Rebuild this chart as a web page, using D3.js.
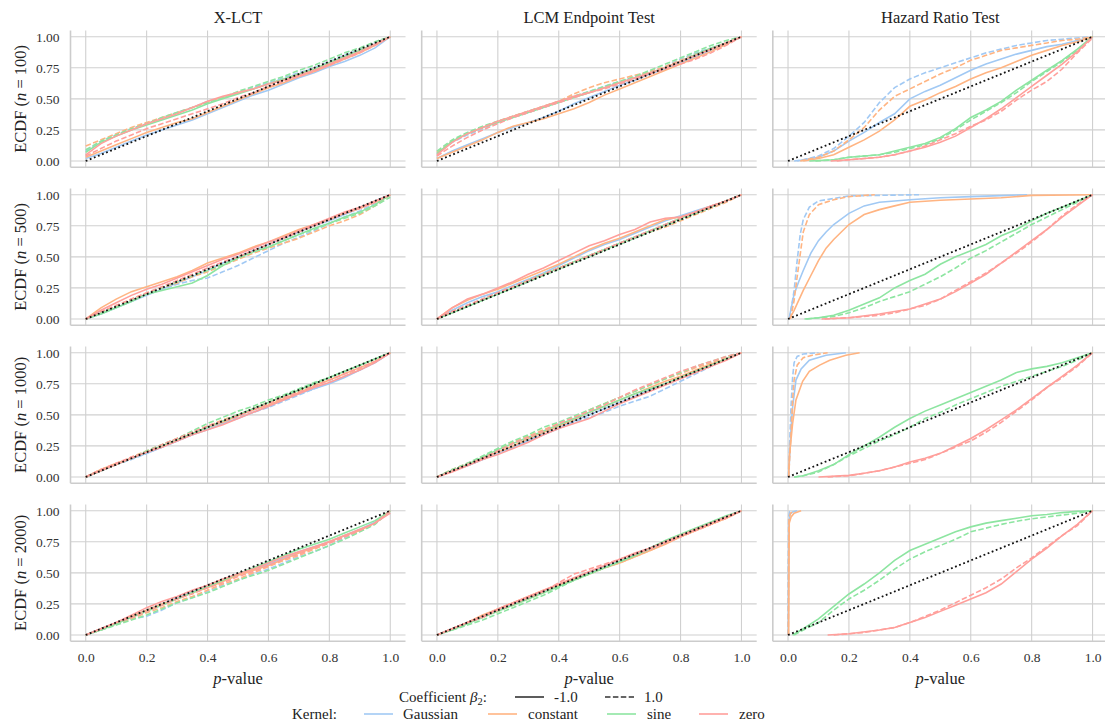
<!DOCTYPE html>
<html><head><meta charset="utf-8">
<script src="https://cdn.jsdelivr.net/npm/d3@7"></script>
<style>
html,body{margin:0;padding:0;background:#fff;}
svg{display:block;font-family:"Liberation Serif","DejaVu Serif",serif;}
svg text{font-family:"Liberation Serif","DejaVu Serif",serif !important;}
</style></head>
<body><svg id="chart" width="1105" height="727"></svg>
<script>
// ---------- data ----------
const columnTitles = ["X-LCT", "LCM Endpoint Test", "Hazard Ratio Test"];
const sampleSizes = [100, 500, 1000, 2000];
const kernels = ["Gaussian", "constant", "sine", "zero"];
const coefficients = ["-1.0", "1.0"];
const xTicks = [0, 0.2, 0.4, 0.6, 0.8, 1.0];
const yTicks = [0, 0.25, 0.5, 0.75, 1.0];
const xGrid = [0,0.05,0.1,0.15,0.2,0.25,0.3,0.35,0.4,0.45,0.5,0.55,0.6,0.65,0.7,0.75,0.8,0.85,0.9,0.95,1.0];

// order of curves: G(-1), G(1), C(-1), C(1), S(-1), S(1), Z(-1), Z(1); y-values on xGrid
const xlct_n100 = [
 [.02,.06,.11,.16,.21,.25,.29,.33,.38,.43,.48,.53,.57,.62,.67,.71,.76,.80,.85,.91,1],
 [.08,.16,.21,.26,.30,.34,.39,.43,.48,.51,.55,.59,.63,.67,.71,.75,.80,.85,.90,.95,1],
 [.03,.08,.13,.18,.23,.27,.31,.34,.39,.44,.49,.54,.59,.63,.68,.72,.77,.82,.87,.93,1],
 [.12,.17,.22,.27,.31,.35,.39,.43,.47,.51,.55,.58,.62,.66,.70,.74,.79,.84,.89,.94,1],
 [.07,.15,.20,.25,.29,.33,.37,.41,.46,.50,.54,.58,.62,.66,.70,.74,.79,.84,.89,.94,1],
 [.09,.16,.21,.26,.30,.35,.39,.43,.47,.51,.56,.60,.64,.68,.73,.77,.82,.87,.91,.96,1],
 [.05,.14,.20,.25,.30,.34,.38,.43,.48,.52,.55,.58,.62,.65,.69,.73,.78,.83,.88,.94,1],
 [.04,.10,.16,.21,.26,.30,.34,.38,.42,.46,.51,.55,.60,.64,.68,.72,.77,.82,.87,.93,1]
];
const lcm_n100 = [
 [.02,.08,.13,.18,.23,.27,.31,.35,.40,.46,.51,.56,.61,.65,.70,.74,.79,.84,.89,.94,1],
 [.06,.15,.21,.26,.31,.35,.39,.43,.47,.52,.56,.60,.64,.68,.72,.76,.82,.87,.91,.95,1],
 [.02,.07,.12,.17,.23,.28,.31,.34,.38,.42,.47,.53,.58,.63,.68,.73,.78,.83,.88,.94,1],
 [.07,.16,.22,.27,.32,.36,.40,.44,.48,.54,.59,.63,.66,.69,.72,.76,.81,.86,.90,.95,1],
 [.06,.16,.22,.27,.31,.35,.39,.43,.47,.51,.55,.59,.63,.67,.71,.75,.80,.86,.91,.95,1],
 [.08,.17,.23,.28,.32,.36,.40,.44,.48,.52,.56,.60,.64,.68,.73,.78,.83,.88,.93,.97,1],
 [.05,.15,.22,.27,.32,.36,.40,.44,.48,.52,.55,.59,.63,.67,.71,.75,.80,.85,.90,.95,1],
 [.04,.12,.19,.25,.30,.35,.39,.43,.47,.51,.55,.58,.62,.66,.70,.74,.78,.82,.87,.93,1]
];
const xlct_n500 = [
 [0,.04,.09,.14,.19,.24,.29,.34,.39,.45,.50,.55,.60,.65,.70,.75,.79,.84,.89,.95,1],
 [0,.05,.10,.15,.20,.24,.28,.31,.33,.38,.43,.49,.55,.61,.66,.71,.77,.82,.87,.93,1],
 [0,.09,.16,.22,.26,.30,.34,.39,.45,.49,.53,.58,.62,.67,.72,.76,.80,.85,.89,.94,1],
 [0,.05,.10,.16,.21,.25,.29,.34,.38,.43,.48,.53,.57,.61,.65,.70,.75,.79,.84,.91,1],
 [0,.04,.09,.14,.20,.23,.26,.29,.35,.43,.49,.54,.58,.63,.68,.73,.77,.82,.86,.92,1],
 [0,.05,.10,.15,.20,.25,.30,.35,.39,.44,.49,.54,.58,.63,.68,.72,.77,.81,.85,.91,.98],
 [0,.07,.13,.19,.24,.28,.33,.38,.43,.48,.52,.57,.62,.66,.71,.76,.81,.86,.90,.95,1],
 [0,.06,.11,.16,.21,.26,.31,.36,.41,.46,.50,.55,.60,.65,.70,.75,.80,.85,.89,.94,1]
];
const lcm_n500 = [
 [0,.07,.13,.18,.22,.27,.32,.37,.43,.49,.55,.60,.64,.69,.74,.79,.83,.87,.91,.95,1],
 [0,.06,.11,.16,.21,.26,.31,.36,.41,.46,.51,.56,.61,.66,.71,.76,.81,.86,.90,.95,1],
 [0,.09,.15,.20,.24,.29,.34,.39,.44,.50,.56,.61,.65,.70,.75,.80,.82,.86,.91,.95,1],
 [0,.06,.11,.16,.21,.26,.31,.36,.41,.46,.51,.56,.61,.66,.70,.74,.79,.84,.89,.94,1],
 [0,.05,.10,.15,.20,.25,.31,.36,.41,.46,.51,.56,.61,.66,.71,.76,.81,.85,.90,.95,1],
 [0,.05,.10,.15,.20,.25,.30,.35,.40,.45,.50,.55,.60,.65,.70,.75,.80,.85,.90,.95,1],
 [0,.09,.16,.20,.25,.30,.36,.41,.47,.53,.59,.63,.68,.72,.78,.81,.82,.86,.91,.95,1],
 [0,.06,.11,.16,.21,.26,.31,.36,.41,.46,.51,.56,.61,.66,.71,.76,.81,.86,.90,.95,1]
];
const xlct_n1000 = [
 [0,.05,.10,.15,.19,.24,.29,.34,.38,.43,.47,.52,.57,.62,.67,.71,.75,.80,.86,.92,1],
 [0,.05,.10,.14,.19,.24,.29,.34,.39,.44,.48,.52,.56,.61,.66,.71,.76,.81,.86,.92,1],
 [0,.06,.11,.15,.20,.25,.30,.35,.40,.44,.49,.54,.58,.63,.68,.73,.78,.83,.88,.93,1],
 [0,.06,.10,.16,.21,.26,.31,.36,.41,.46,.50,.55,.60,.65,.69,.74,.78,.83,.87,.93,1],
 [0,.05,.10,.15,.20,.25,.30,.35,.40,.45,.50,.55,.60,.65,.70,.75,.80,.85,.90,.95,1],
 [0,.05,.10,.15,.21,.26,.31,.37,.43,.48,.53,.57,.62,.66,.71,.76,.80,.85,.90,.95,1],
 [0,.05,.10,.15,.20,.24,.29,.34,.38,.42,.47,.52,.57,.62,.67,.72,.76,.81,.86,.92,1],
 [0,.06,.11,.16,.20,.26,.31,.36,.41,.45,.49,.54,.59,.64,.68,.73,.78,.83,.88,.93,1]
];
const lcm_n1000 = [
 [0,.05,.09,.14,.19,.24,.29,.34,.39,.45,.50,.55,.60,.65,.70,.75,.80,.85,.90,.95,1],
 [0,.05,.09,.14,.19,.24,.30,.35,.40,.44,.48,.52,.57,.61,.65,.71,.77,.83,.89,.95,1],
 [0,.05,.10,.15,.20,.25,.31,.36,.41,.46,.52,.57,.62,.67,.72,.77,.81,.86,.91,.95,1],
 [0,.06,.11,.16,.22,.28,.33,.38,.43,.48,.54,.59,.64,.69,.74,.79,.83,.88,.92,.96,1],
 [0,.05,.10,.16,.22,.27,.32,.37,.42,.47,.52,.57,.62,.67,.71,.75,.80,.85,.90,.95,1],
 [0,.06,.11,.17,.23,.29,.34,.40,.44,.49,.54,.59,.64,.69,.74,.79,.84,.89,.93,.97,1],
 [0,.04,.09,.14,.18,.23,.28,.34,.39,.43,.47,.53,.59,.64,.69,.74,.79,.84,.89,.94,1],
 [0,.05,.10,.15,.21,.27,.32,.37,.43,.48,.53,.58,.64,.70,.75,.80,.85,.89,.93,.97,1]
];
const xlct_n2000 = [
 [0,.05,.09,.15,.20,.25,.30,.35,.39,.44,.49,.53,.57,.62,.67,.71,.75,.80,.85,.91,1],
 [0,.04,.09,.13,.15,.20,.26,.30,.35,.40,.44,.49,.53,.58,.63,.67,.72,.78,.84,.90,1],
 [0,.05,.09,.15,.20,.25,.29,.34,.38,.43,.48,.52,.56,.61,.66,.70,.75,.80,.84,.90,1],
 [0,.04,.09,.13,.18,.22,.27,.31,.36,.41,.45,.50,.55,.60,.64,.69,.74,.79,.84,.90,1],
 [0,.04,.09,.14,.19,.24,.29,.34,.39,.44,.49,.54,.59,.64,.69,.73,.77,.82,.87,.92,1],
 [0,.04,.08,.12,.16,.21,.26,.30,.34,.39,.44,.48,.52,.57,.62,.67,.72,.77,.83,.89,1],
 [0,.05,.10,.16,.22,.27,.31,.36,.40,.45,.49,.53,.58,.63,.67,.71,.75,.80,.85,.90,.98],
 [0,.05,.10,.14,.19,.24,.29,.33,.38,.42,.47,.51,.56,.61,.65,.70,.74,.79,.84,.90,1]
];
const lcm_n2000 = [
 [0,.05,.10,.15,.20,.25,.30,.35,.40,.45,.50,.55,.59,.64,.69,.74,.80,.85,.90,.95,1],
 [0,.05,.10,.15,.20,.25,.30,.35,.40,.45,.50,.55,.60,.65,.70,.75,.80,.85,.90,.95,1],
 [0,.05,.10,.16,.21,.26,.31,.36,.40,.45,.49,.54,.58,.63,.68,.73,.79,.84,.89,.94,1],
 [0,.05,.10,.15,.19,.24,.29,.34,.39,.44,.49,.54,.58,.63,.68,.74,.79,.84,.89,.94,1],
 [0,.04,.09,.14,.19,.24,.29,.34,.39,.44,.49,.54,.59,.64,.70,.76,.81,.86,.91,.96,1],
 [0,.04,.08,.12,.17,.22,.27,.32,.38,.44,.49,.54,.59,.64,.69,.75,.80,.85,.90,.95,1],
 [0,.05,.10,.15,.21,.26,.31,.36,.41,.46,.51,.56,.61,.66,.70,.75,.80,.85,.90,.95,1],
 [0,.05,.10,.14,.20,.25,.30,.35,.42,.49,.53,.57,.61,.65,.69,.74,.79,.84,.89,.94,1]
];
// Hazard ratio test: [p-value, ECDF] pairs per curve
const hr_n100 = [
 [[0.03,0],[0.05,0.01],[0.1,0.03],[0.15,0.08],[0.2,0.16],[0.25,0.23],[0.3,0.31],[0.35,0.38],[0.4,0.5],[0.45,0.56],[0.5,0.61],[0.55,0.67],[0.6,0.73],[0.65,0.78],[0.7,0.82],[0.75,0.86],[0.8,0.89],[0.85,0.92],[0.9,0.94],[0.95,0.97],[1,1]],
 [[0.02,0],[0.05,0.01],[0.1,0.04],[0.15,0.1],[0.2,0.2],[0.25,0.31],[0.3,0.47],[0.35,0.59],[0.4,0.66],[0.45,0.71],[0.5,0.75],[0.55,0.79],[0.6,0.83],[0.65,0.87],[0.7,0.9],[0.75,0.93],[0.8,0.95],[0.85,0.97],[0.9,0.98],[0.95,0.99],[1,1]],
 [[0.05,0],[0.1,0.02],[0.15,0.05],[0.2,0.11],[0.25,0.17],[0.3,0.24],[0.35,0.33],[0.4,0.44],[0.45,0.49],[0.5,0.55],[0.55,0.6],[0.6,0.66],[0.65,0.71],[0.7,0.75],[0.75,0.8],[0.8,0.85],[0.85,0.89],[0.9,0.93],[0.95,0.96],[1,1]],
 [[0.04,0],[0.1,0.03],[0.15,0.08],[0.2,0.17],[0.25,0.27],[0.3,0.41],[0.35,0.52],[0.4,0.58],[0.45,0.64],[0.5,0.7],[0.55,0.75],[0.6,0.81],[0.65,0.85],[0.7,0.89],[0.75,0.91],[0.8,0.93],[0.85,0.95],[0.9,0.97],[0.95,0.98],[1,1]],
 [[0.07,0],[0.15,0.01],[0.2,0.03],[0.25,0.04],[0.3,0.05],[0.35,0.08],[0.4,0.11],[0.45,0.14],[0.5,0.19],[0.55,0.26],[0.6,0.35],[0.65,0.41],[0.7,0.48],[0.75,0.57],[0.8,0.65],[0.85,0.73],[0.9,0.81],[0.95,0.9],[1,1]],
 [[0.09,0],[0.15,0.01],[0.2,0.03],[0.3,0.05],[0.35,0.07],[0.4,0.1],[0.45,0.13],[0.5,0.18],[0.55,0.25],[0.6,0.33],[0.65,0.4],[0.7,0.47],[0.75,0.55],[0.8,0.64],[0.85,0.72],[0.9,0.8],[0.95,0.89],[1,1]],
 [[0.14,0],[0.2,0.01],[0.3,0.03],[0.35,0.05],[0.4,0.08],[0.45,0.11],[0.5,0.15],[0.55,0.2],[0.6,0.27],[0.65,0.34],[0.7,0.42],[0.75,0.51],[0.8,0.6],[0.85,0.69],[0.9,0.78],[0.95,0.88],[1,1]],
 [[0.16,0],[0.25,0.02],[0.3,0.03],[0.35,0.05],[0.4,0.08],[0.45,0.12],[0.5,0.17],[0.55,0.22],[0.6,0.28],[0.65,0.33],[0.7,0.4],[0.75,0.49],[0.8,0.57],[0.85,0.64],[0.9,0.74],[0.95,0.87],[1,0.99]]
];
const hr_n500 = [
 [[0.003,0],[0.02,0.2],[0.035,0.3],[0.05,0.39],[0.075,0.53],[0.1,0.63],[0.125,0.7],[0.15,0.76],[0.2,0.85],[0.25,0.91],[0.3,0.94],[0.4,0.96],[0.5,0.975],[0.6,0.985],[0.7,0.993],[0.785,1]],
 [[0.005,0],[0.02,0.23],[0.03,0.47],[0.04,0.68],[0.05,0.8],[0.07,0.9],[0.1,0.95],[0.15,0.97],[0.2,0.99],[0.3,0.995],[0.43,1]],
 [[0.005,0],[0.02,0.07],[0.05,0.23],[0.075,0.35],[0.1,0.47],[0.125,0.57],[0.15,0.64],[0.175,0.7],[0.2,0.76],[0.25,0.84],[0.3,0.88],[0.35,0.91],[0.4,0.94],[0.5,0.955],[0.6,0.965],[0.7,0.975],[0.8,0.995],[1,1]],
 [[0.008,0],[0.02,0.15],[0.03,0.34],[0.04,0.52],[0.05,0.7],[0.07,0.84],[0.1,0.92],[0.15,0.96],[0.2,0.985],[0.285,1]],
 [[0.054,0],[0.1,0.01],[0.15,0.03],[0.2,0.07],[0.25,0.12],[0.3,0.17],[0.35,0.25],[0.4,0.31],[0.45,0.36],[0.5,0.44],[0.55,0.5],[0.6,0.55],[0.65,0.6],[0.7,0.67],[0.75,0.72],[0.8,0.79],[0.85,0.85],[0.9,0.9],[0.95,0.95],[1,1]],
 [[0.06,0],[0.15,0.02],[0.2,0.05],[0.25,0.09],[0.3,0.14],[0.35,0.18],[0.4,0.22],[0.45,0.28],[0.5,0.34],[0.55,0.41],[0.6,0.49],[0.65,0.55],[0.7,0.62],[0.75,0.69],[0.8,0.76],[0.85,0.82],[0.9,0.88],[0.95,0.94],[1,1]],
 [[0.11,0],[0.2,0.01],[0.3,0.04],[0.35,0.06],[0.4,0.08],[0.45,0.12],[0.5,0.16],[0.55,0.22],[0.6,0.29],[0.65,0.36],[0.7,0.45],[0.75,0.54],[0.8,0.63],[0.85,0.72],[0.9,0.82],[0.95,0.91],[1,1]],
 [[0.12,0],[0.2,0.01],[0.3,0.03],[0.35,0.05],[0.4,0.08],[0.45,0.11],[0.5,0.16],[0.55,0.23],[0.6,0.3],[0.65,0.37],[0.7,0.45],[0.75,0.53],[0.8,0.62],[0.85,0.72],[0.9,0.83],[0.95,0.92],[1,1]]
];
const hr_n1000 = [
 [[0.002,0],[0.006,0.2],[0.01,0.4],[0.015,0.56],[0.026,0.78],[0.043,0.87],[0.07,0.94],[0.125,0.98],[0.19,1]],
 [[0.001,0],[0.005,0.25],[0.01,0.58],[0.015,0.8],[0.02,0.92],[0.03,0.97],[0.05,0.99],[0.1,1]],
 [[0.002,0],[0.004,0.16],[0.015,0.43],[0.026,0.62],[0.048,0.77],[0.07,0.85],[0.104,0.9],[0.137,0.94],[0.19,0.98],[0.235,1]],
 [[0.002,0],[0.01,0.35],[0.015,0.62],[0.02,0.78],[0.03,0.9],[0.05,0.96],[0.08,0.98],[0.13,1]],
 [[0.02,0],[0.05,0.01],[0.1,0.05],[0.15,0.1],[0.2,0.18],[0.25,0.25],[0.3,0.32],[0.35,0.4],[0.4,0.47],[0.45,0.53],[0.5,0.58],[0.55,0.63],[0.6,0.68],[0.65,0.73],[0.7,0.78],[0.75,0.84],[0.8,0.87],[0.85,0.89],[0.9,0.92],[0.95,0.96],[1,1]],
 [[0.02,0],[0.05,0.01],[0.1,0.04],[0.15,0.1],[0.2,0.17],[0.25,0.23],[0.3,0.29],[0.35,0.34],[0.4,0.4],[0.45,0.47],[0.5,0.52],[0.55,0.58],[0.6,0.63],[0.65,0.68],[0.7,0.73],[0.75,0.77],[0.8,0.81],[0.85,0.85],[0.9,0.89],[0.95,0.94],[1,1]],
 [[0.1,0],[0.2,0.013],[0.25,0.03],[0.3,0.05],[0.35,0.08],[0.4,0.12],[0.45,0.15],[0.5,0.19],[0.55,0.25],[0.6,0.31],[0.65,0.38],[0.7,0.46],[0.75,0.54],[0.8,0.63],[0.85,0.72],[0.9,0.81],[0.95,0.9],[1,1]],
 [[0.13,0],[0.2,0.01],[0.25,0.03],[0.3,0.05],[0.35,0.08],[0.4,0.11],[0.45,0.14],[0.5,0.19],[0.55,0.24],[0.6,0.29],[0.65,0.36],[0.7,0.44],[0.75,0.53],[0.8,0.62],[0.85,0.72],[0.9,0.8],[0.95,0.89],[1,1]]
];
const hr_n2000 = [
 [[0.001,0],[0.002,0.5],[0.003,0.9],[0.006,0.97],[0.015,0.99],[0.03,1]],
 [[0.0005,0],[0.001,0.6],[0.002,0.95],[0.005,0.99],[0.012,1]],
 [[0.002,0],[0.003,0.5],[0.004,0.9],[0.01,0.95],[0.02,0.98],[0.043,1]],
 [[0.001,0],[0.002,0.6],[0.003,0.93],[0.008,0.98],[0.02,1]],
 [[0.015,0],[0.05,0.05],[0.1,0.13],[0.15,0.23],[0.2,0.33],[0.25,0.41],[0.3,0.5],[0.35,0.6],[0.4,0.68],[0.45,0.73],[0.5,0.78],[0.55,0.83],[0.6,0.87],[0.65,0.9],[0.7,0.92],[0.75,0.94],[0.8,0.96],[0.85,0.97],[0.9,0.985],[0.95,0.995],[1,1]],
 [[0.02,0],[0.05,0.04],[0.1,0.1],[0.15,0.2],[0.2,0.29],[0.25,0.36],[0.3,0.44],[0.35,0.53],[0.4,0.61],[0.45,0.67],[0.5,0.72],[0.55,0.77],[0.6,0.83],[0.65,0.86],[0.7,0.89],[0.75,0.915],[0.8,0.935],[0.85,0.95],[0.9,0.965],[0.95,0.98],[1,1]],
 [[0.13,0],[0.2,0.01],[0.3,0.04],[0.35,0.06],[0.4,0.1],[0.45,0.14],[0.5,0.19],[0.55,0.24],[0.6,0.29],[0.65,0.34],[0.7,0.41],[0.75,0.51],[0.8,0.61],[0.85,0.7],[0.9,0.8],[0.95,0.89],[1,1]],
 [[0.15,0],[0.25,0.02],[0.3,0.04],[0.35,0.06],[0.4,0.1],[0.45,0.15],[0.5,0.2],[0.55,0.26],[0.6,0.32],[0.65,0.38],[0.7,0.45],[0.75,0.54],[0.8,0.62],[0.85,0.71],[0.9,0.8],[0.95,0.88],[1,1]]
];

// ---------- layout ----------
const kernelColors = ["#a1c9f4", "#ffb482", "#8de5a1", "#ff9f9b"];
const gridPanels = [
  [xlct_n100, lcm_n100, hr_n100],
  [xlct_n500, lcm_n500, hr_n500],
  [xlct_n1000, lcm_n1000, hr_n1000],
  [xlct_n2000, lcm_n2000, hr_n2000]
];
const colLeft = [70.5, 421.7, 772.8];
const rowTop0 = 30.5, rowStep = 158, panelW = 335, panelH = 136.7;
const dashPattern = "5.5,2.4";
const serif = '"Liberation Serif", "DejaVu Serif", serif';

const svg = d3.select("#chart");
const toPairs = arr => Array.isArray(arr[0]) ? arr : xGrid.map((x, i) => [x, arr[i]]);

gridPanels.forEach((row, r) => {
  row.forEach((curves, c) => {
    const left = colLeft[c], top = rowTop0 + r * rowStep;
    const x = d3.scaleLinear().domain([-0.05, 1.05]).range([left, left + panelW]);
    const y = d3.scaleLinear().domain([-0.05, 1.05]).range([top + panelH, top]);
    const g = svg.append("g");

    // grid
    g.selectAll(".vg").data(xTicks).join("line")
      .attr("x1", d => x(d)).attr("x2", d => x(d))
      .attr("y1", top).attr("y2", top + panelH)
      .attr("stroke", "#d0d0d0").attr("stroke-width", 1.1);
    g.selectAll(".hg").data(yTicks).join("line")
      .attr("x1", left).attr("x2", left + panelW)
      .attr("y1", d => y(d)).attr("y2", d => y(d))
      .attr("stroke", "#d0d0d0").attr("stroke-width", 1.1);
    // spines (left & bottom)
    g.append("line").attr("x1", left).attr("x2", left).attr("y1", top).attr("y2", top + panelH)
      .attr("stroke", "#cccccc").attr("stroke-width", 1.6);
    g.append("line").attr("x1", left).attr("x2", left + panelW).attr("y1", top + panelH).attr("y2", top + panelH)
      .attr("stroke", "#cccccc").attr("stroke-width", 1.6);

    // axes tick labels
    if (c === 0) {
      const ya = d3.axisLeft(y).tickValues(yTicks).tickFormat(d3.format(".2f")).tickSize(0).tickPadding(11);
      const ag = g.append("g").attr("transform", `translate(${left},0)`).call(ya)
        .attr("font-family", null).attr("font-size", null);
      ag.select(".domain").remove();
      ag.selectAll("text").style("font-size", "13.5px").style("fill", "#333").style("font-family", serif);
    }
    if (r === 3) {
      const xa = d3.axisBottom(x).tickValues(xTicks).tickFormat(d3.format(".1f")).tickSize(0).tickPadding(11);
      const ag = g.append("g").attr("transform", `translate(0,${top + panelH})`).call(xa)
        .attr("font-family", null).attr("font-size", null);
      ag.select(".domain").remove();
      ag.selectAll("text").style("font-size", "13.5px").style("fill", "#333").style("font-family", serif);
    }

    // curves
    const line = d3.line().x(d => x(d[0])).y(d => y(d[1]));
    curves.forEach((arr, i) => {
      const k = Math.floor(i / 2), dashed = i % 2 === 1;
      g.append("path").datum(toPairs(arr))
        .attr("d", line).attr("fill", "none")
        .attr("stroke", kernelColors[k]).attr("stroke-width", 1.6)
        .attr("stroke-dasharray", dashed ? dashPattern : null);
    });
    // diagonal reference
    g.append("path").datum([[0, 0], [1, 1]]).attr("d", line)
      .attr("fill", "none").attr("stroke", "#111").attr("stroke-width", 1.8)
      .attr("stroke-dasharray", "1.8,2.6");

    // titles
    if (r === 0) {
      g.append("text").attr("x", left + panelW / 2).attr("y", 23)
        .attr("text-anchor", "middle").attr("font-size", 16.5).attr("fill", "#222")
        .text(columnTitles[c]);
    }
    if (c === 0) {
      const t = g.append("text")
        .attr("transform", `translate(26,${top + panelH / 2}) rotate(-90)`)
        .attr("text-anchor", "middle").attr("font-size", 16.5).attr("fill", "#222");
      t.append("tspan").text("ECDF  (");
      t.append("tspan").attr("font-style", "italic").text("n");
      t.append("tspan").text(" = " + sampleSizes[r] + ")");
    }
    if (r === 3) {
      const t = g.append("text").attr("x", x(0.5)).attr("y", 684)
        .attr("text-anchor", "middle").attr("font-size", 16.5).attr("fill", "#222");
      t.append("tspan").attr("font-style", "italic").text("p");
      t.append("tspan").text("-value");
    }
  });
});

// ---------- legend ----------
const lg = svg.append("g").attr("font-size", 15).attr("fill", "#222");
const row1Y = 702, row2Y = 719;
const coefTitle = lg.append("text").attr("x", 399).attr("y", row1Y);
coefTitle.append("tspan").text("Coefficient ");
coefTitle.append("tspan").attr("font-style", "italic").text("β");
coefTitle.append("tspan").attr("font-size", 10.5).attr("dy", 3).text("2");
coefTitle.append("tspan").attr("dy", -3).text(":");
const coefX = [515, 605], coefTextX = [554, 644];
coefficients.forEach((cf, i) => {
  lg.append("line").attr("x1", coefX[i]).attr("x2", coefX[i] + 29).attr("y1", row1Y - 5).attr("y2", row1Y - 5)
    .attr("stroke", "#333").attr("stroke-width", 1.6)
    .attr("stroke-dasharray", i === 1 ? dashPattern : null);
  lg.append("text").attr("x", coefTextX[i]).attr("y", row1Y).text(cf);
});
lg.append("text").attr("x", 292).attr("y", row2Y).text("Kernel:");
const kX = [364, 488, 607, 699], kTextX = [403, 528, 647, 739];
kernels.forEach((k, i) => {
  lg.append("line").attr("x1", kX[i]).attr("x2", kX[i] + 29).attr("y1", row2Y - 5).attr("y2", row2Y - 5)
    .attr("stroke", kernelColors[i]).attr("stroke-width", 1.6);
  lg.append("text").attr("x", kTextX[i]).attr("y", row2Y).text(k);
});
</script>
</body></html>
